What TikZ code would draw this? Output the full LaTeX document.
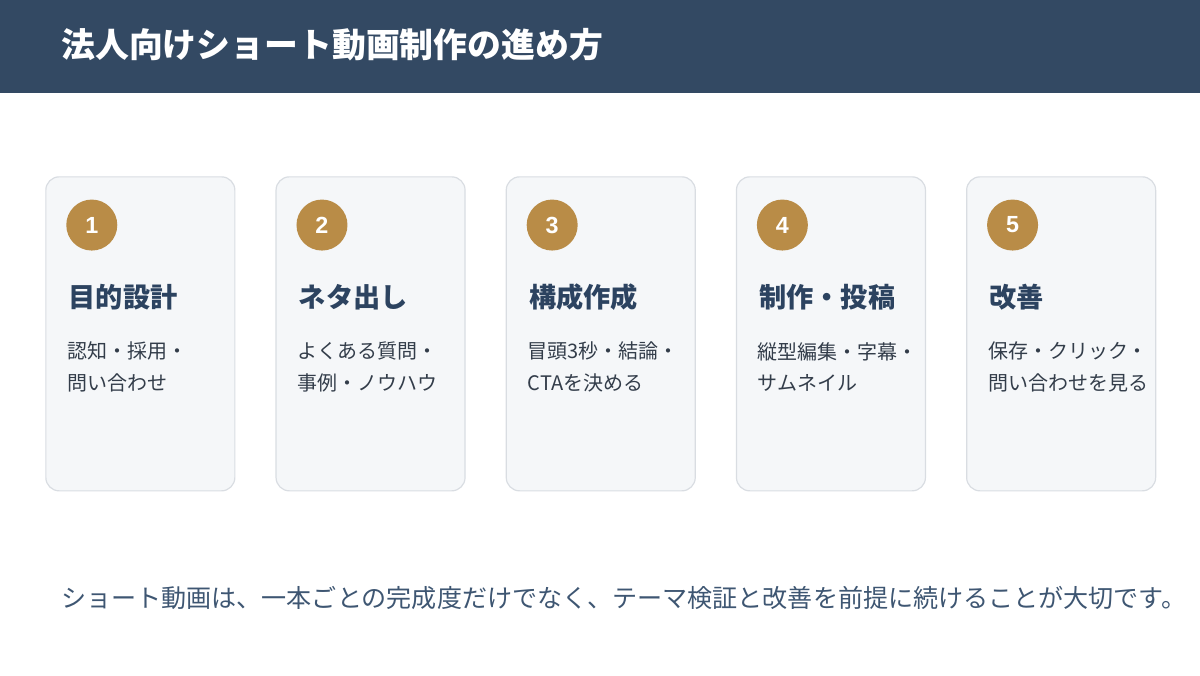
\documentclass[tikz,border=0pt]{standalone}
\usepackage{fontspec}
\setmainfont{Noto Sans CJK JP}
\newfontfamily\numfont{Liberation Sans}
\usepackage{xcolor}
\definecolor{white}{RGB}{255,255,255}
\definecolor{navy}{HTML}{334963}
\definecolor{cardfill}{HTML}{F5F7F9}
\definecolor{cardline}{HTML}{D9DDE2}
\definecolor{gold}{HTML}{B98C47}
\definecolor{headtext}{HTML}{2C4360}
\definecolor{bodytext}{HTML}{333D4A}
\definecolor{foottext}{HTML}{3E5672}
\usepackage{tikz}
\usetikzlibrary{positioning}

\begin{document}
\begin{tikzpicture}[x = 0.75pt, y = -0.75pt, node distance = 30pt,
		card/.style={
					rectangle, minimum width = 141.75pt, minimum height = 235.5pt, rounded corners = 10pt,
					line width = 0.9pt, draw = cardline, fill = cardfill},
		num/.style={
					circle, minimum size = 38.25pt, inner sep = 0pt, fill = gold, text = white,
					font = \numfont\bfseries\fontsize{17.5pt}{17.5pt}\selectfont},
		heading/.style={inner sep = 0pt, text = headtext, font = \bfseries\fontsize{20.4pt}{20.4pt}\selectfont},
		body/.style={inner sep = 0pt, align = left, text = bodytext, font = \fontsize{15pt}{23.5pt}\selectfont}]
		\useasboundingbox (0,0) rectangle (1200,675);
		\fill [navy] (0,0) rectangle (1200,92.5);
		\node (title) [inner sep = 0pt, anchor = west, text = white, font = \bfseries\fontsize{25.4pt}{25.4pt}\selectfont] at (61,45) {法人向けショート動画制作の進め方};

		\node (card1) [card] at (140.35,333.85) {};
		\node (card2) [card, right=of card1] {};
		\node (card3) [card, right=of card2] {};
		\node (card4) [card, right=of card3] {};
		\node (card5) [card, right=of card4] {};

		\node (num1) [num, right=34.9pt of card1.north west, yshift=-36.6pt, anchor=center] {1};
		\node (num2) [num, right=34.9pt of card2.north west, yshift=-36.6pt, anchor=center] {2};
		\node (num3) [num, right=34.9pt of card3.north west, yshift=-36.6pt, anchor=center] {3};
		\node (num4) [num, right=34.9pt of card4.north west, yshift=-36.6pt, anchor=center] {4};
		\node (num5) [num, right=34.9pt of card5.north west, yshift=-36.6pt, anchor=center] {5};

		\node (head1) [heading, below=54pt of num1.west, anchor=west, xshift=1.8pt] {目的設計};
		\node (head2) [heading, below=54pt of num2.west, anchor=west, xshift=1.8pt] {ネタ出し};
		\node (head3) [heading, below=54pt of num3.west, anchor=west, xshift=1.8pt] {構成作成};
		\node (head4) [heading, below=54pt of num4.west, anchor=west, xshift=1.8pt] {制作・投稿};
		\node (head5) [heading, below=54pt of num5.west, anchor=west, xshift=1.8pt] {改善};

		\node (body1) [body, below=52.4pt of head1.west, anchor=west, xshift=-1pt] {認知・採用・\\問い合わせ};
		\node (body2) [body, below=52.4pt of head2.west, anchor=west, xshift=-1pt] {よくある質問・\\事例・ノウハウ};
		\node (body3) [body, below=52.4pt of head3.west, anchor=west, xshift=-1pt] {冒頭3秒・結論・\\CTAを決める};
		\node (body4) [body, below=52.4pt of head4.west, anchor=west, xshift=-1pt] {縦型編集・字幕・\\サムネイル};
		\node (body5) [body, below=52.4pt of head5.west, anchor=west, xshift=-1pt] {保存・クリック・\\問い合わせを見る};

		\node (note) [inner sep = 0pt, anchor = west, text = foottext, font = \fontsize{18.8pt}{18.8pt}\selectfont] at (61,598) {ショート動画は、一本ごとの完成度だけでなく、テーマ検証と改善を前提に続けることが大切です。};
	\end{tikzpicture}
\end{document}
